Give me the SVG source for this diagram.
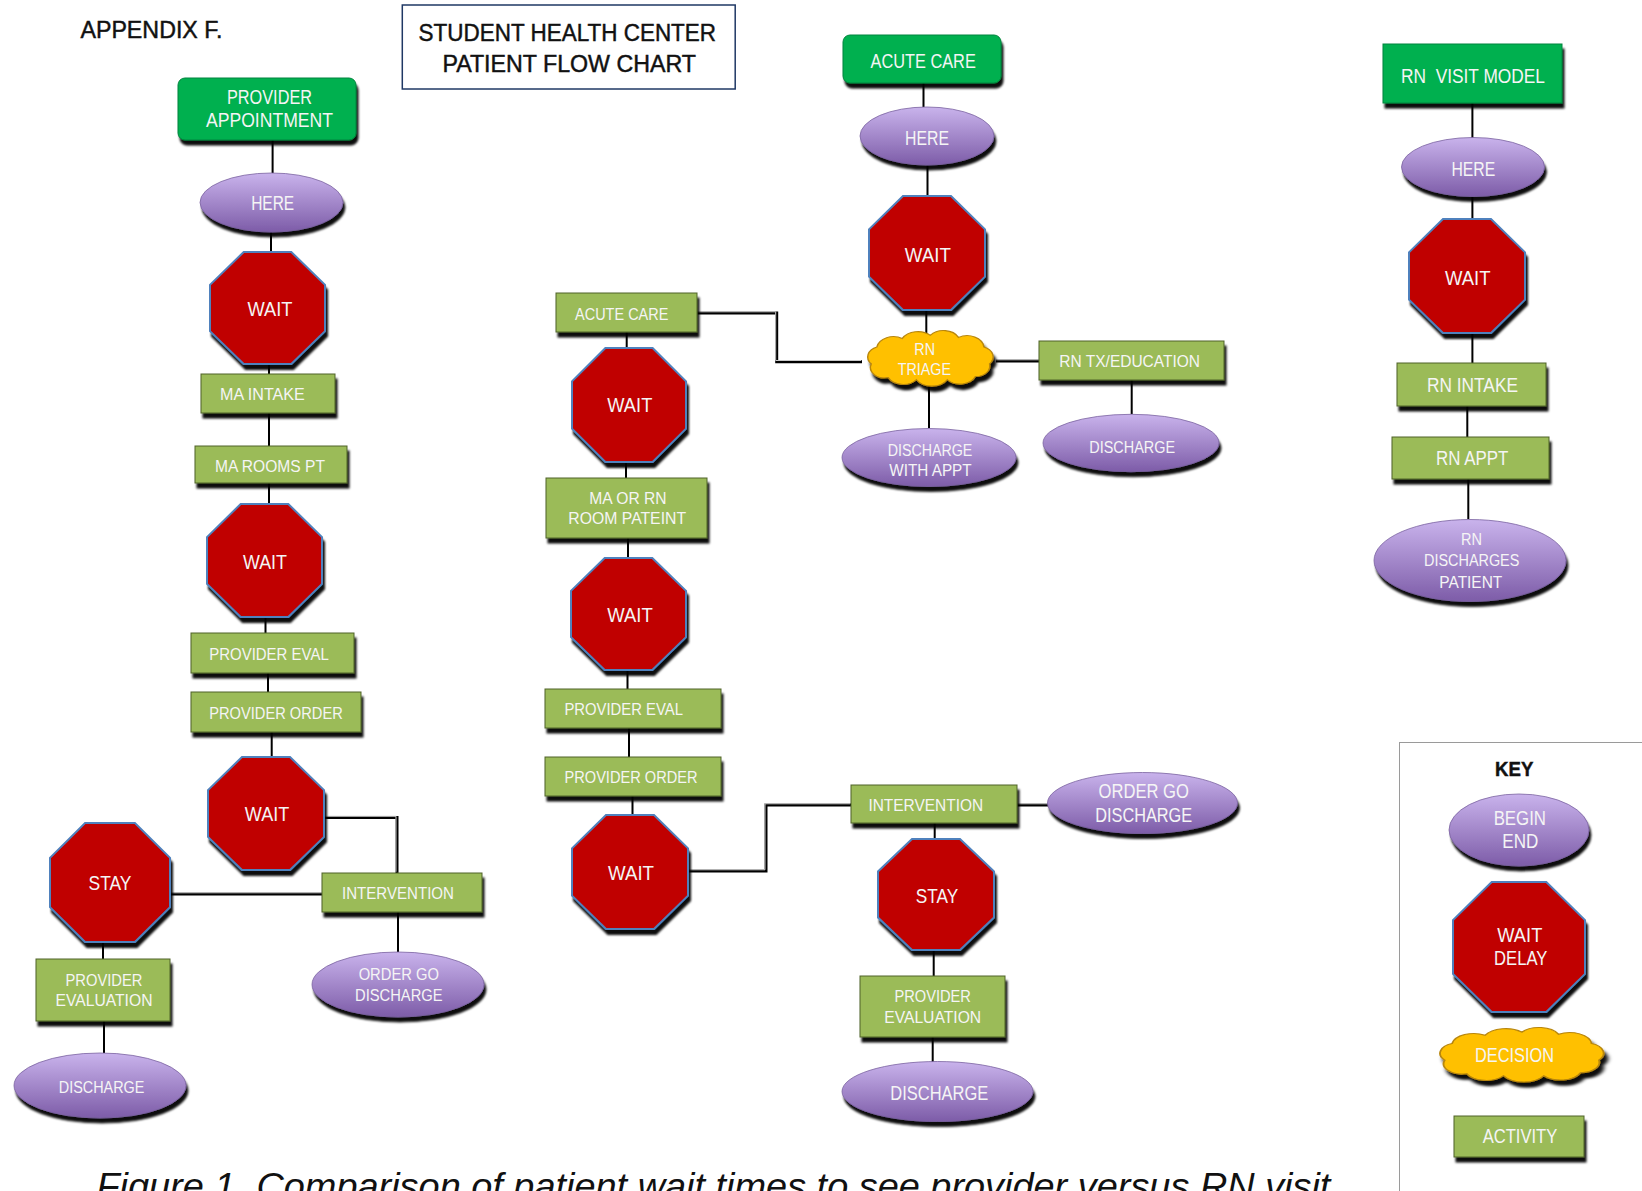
<svg xmlns="http://www.w3.org/2000/svg" width="1642" height="1191" viewBox="0 0 1642 1191">
<style>
.t{font-family:"Liberation Sans",Arial,sans-serif;fill:#F5F5F5;text-anchor:middle}
.s{font-size:17.2px}
.l{font-size:19.4px}
.dk{font-family:"Liberation Sans",Arial,sans-serif;fill:#111;text-anchor:middle;stroke:#111;stroke-width:0.45}
.oct{fill:#C00000;stroke:#4F81BD;stroke-width:2;filter:url(#sh)}
.ell{fill:url(#pg);stroke:#7a62a0;stroke-width:0.8;filter:url(#sh)}
.act{fill:#9BBB59;stroke:#4F6228;stroke-width:1;filter:url(#sh)}
.beg{fill:#00B050;stroke:#00843c;stroke-width:1;filter:url(#sh)}
.cld{fill:#FFC000;stroke:#B8860B;stroke-width:1;filter:url(#sh)}
.ln{fill:none;stroke:#000;stroke-width:2}
.k{fill:none;stroke:#000;stroke-width:3}
.h{fill:none;stroke:#c8c8c8;stroke-width:1}
</style>
<defs>
<filter id="sh" x="-10%" y="-10%" width="125%" height="135%">
<feDropShadow dx="2" dy="5" stdDeviation="1.2" flood-color="#000" flood-opacity="0.95"/>
</filter>
<linearGradient id="pg" x1="0" y1="0" x2="0" y2="1">
<stop offset="0" stop-color="#C9B3EC"/>
<stop offset="1" stop-color="#7D5CA8"/>
</linearGradient>
<path id="cloud" d="M10,32 A10,10 0 0 1 14,16 A12,12 0 0 1 32,8 A13,13 0 0 1 52,5 A12,12 0 0 1 72,7 A12,12 0 0 1 90,16 A10,10 0 0 1 94,32 A10,10 0 0 1 84,44 A12,12 0 0 1 64,47 A13,13 0 0 1 42,47 A12,12 0 0 1 22,45 A10,10 0 0 1 10,32 Z"/>
</defs>
<rect width="1642" height="1191" fill="#fff"/>

<g id="connectors">
<line class="ln" x1="272.6" y1="140" x2="272.6" y2="173"/>
<line class="ln" x1="271" y1="232" x2="271" y2="252"/>
<line class="ln" x1="269" y1="364" x2="269" y2="374"/>
<line class="ln" x1="269" y1="413" x2="269" y2="446"/>
<line class="ln" x1="269" y1="483" x2="269" y2="504"/>
<line class="ln" x1="265.5" y1="617" x2="265.5" y2="633"/>
<line class="ln" x1="268" y1="673" x2="268" y2="692"/>
<line class="ln" x1="271.7" y1="732" x2="271.7" y2="757"/>
<line class="ln" x1="103" y1="942" x2="103" y2="959"/>
<line class="ln" x1="104" y1="1021" x2="104" y2="1053"/>
<line class="ln" x1="398" y1="912" x2="398" y2="952"/>
<line class="ln" x1="626.7" y1="332" x2="626.7" y2="348"/>
<line class="ln" x1="626" y1="462" x2="626" y2="478"/>
<line class="ln" x1="628" y1="538" x2="628" y2="558"/>
<line class="ln" x1="627.5" y1="670" x2="627.5" y2="689"/>
<line class="ln" x1="629" y1="728" x2="629" y2="757"/>
<line class="ln" x1="632.5" y1="796" x2="632.5" y2="815"/>
<line class="ln" x1="934.7" y1="823" x2="934.7" y2="839"/>
<line class="ln" x1="933.7" y1="950" x2="933.7" y2="976"/>
<line class="ln" x1="932.7" y1="1037" x2="932.7" y2="1062"/>
<line class="ln" x1="923.5" y1="83" x2="923.5" y2="107"/>
<line class="ln" x1="927.5" y1="165" x2="927.5" y2="196"/>
<line class="ln" x1="926.3" y1="310" x2="926.3" y2="335"/>
<line class="ln" x1="929" y1="386" x2="929" y2="428"/>
<line class="ln" x1="1131.7" y1="380" x2="1131.7" y2="414"/>
<line class="ln" x1="1472.4" y1="103" x2="1472.4" y2="138"/>
<line class="ln" x1="1472.4" y1="196" x2="1472.4" y2="219"/>
<line class="ln" x1="1472.4" y1="333" x2="1472.4" y2="363"/>
<line class="ln" x1="1467.3" y1="406" x2="1467.3" y2="437"/>
<line class="ln" x1="1468.3" y1="479" x2="1468.3" y2="519"/>
<path class="k" d="M697,313 H776.7 V361.7 H862"/>
<path class="h" transform="translate(-1,-1.2)" d="M697,313 H776.7 V361.7 H862"/>
<path class="k" d="M324,817.5 H397 V873"/>
<path class="h" transform="translate(-1,-1.2)" d="M324,817.5 H397 V873"/>
<path class="k" d="M170,894 H322"/>
<path class="h" transform="translate(0,-1.2)" d="M170,894 H322"/>
<path class="k" d="M688,871 H766 V805 H851"/>
<path class="h" transform="translate(-1,-1.2)" d="M688,871 H766 V805 H851"/>
<path class="k" d="M1017,805 H1048"/>
<path class="h" transform="translate(0,-1.2)" d="M1017,805 H1048"/>
<path class="k" d="M996,361 H1039"/>
<path class="h" transform="translate(0,-1.2)" d="M996,361 H1039"/>
</g>

<g id="appendix"><text class="dk" x="151.4" y="38.3" font-size="23" textLength="142" lengthAdjust="spacingAndGlyphs">APPENDIX F.</text></g>
<g id="title">
<rect x="402.3" y="5" width="332.9" height="84" fill="#fff" stroke="#1F3864" stroke-width="1.5"/>
<text class="dk" x="567.3" y="40.7" font-size="23.3" textLength="297.5" lengthAdjust="spacingAndGlyphs">STUDENT HEALTH CENTER</text>
<text class="dk" x="569.2" y="71.7" font-size="23.3" textLength="253.6" lengthAdjust="spacingAndGlyphs">PATIENT FLOW CHART</text>
</g>

<!-- Column 1 -->
<g id="provider-appointment"><rect class="beg" x="178" y="78" width="178" height="62" rx="7"/>
<text class="t l" x="269.5" y="104" textLength="85" lengthAdjust="spacingAndGlyphs">PROVIDER</text>
<text class="t l" x="269.5" y="127" textLength="127" lengthAdjust="spacingAndGlyphs">APPOINTMENT</text></g>
<g id="here-1"><ellipse class="ell" cx="271.5" cy="202.5" rx="71.5" ry="29.5"/>
<text class="t l" x="272.7" y="210" textLength="43" lengthAdjust="spacingAndGlyphs">HERE</text></g>
<g id="wait-1a"><polygon class="oct" points="243.7,252 291.3,252 325,284.8 325,331.2 291.3,364 243.7,364 210,331.2 210,284.8"/>
<text class="t l" x="270" y="316" textLength="45" lengthAdjust="spacingAndGlyphs">WAIT</text></g>
<g id="ma-intake"><rect class="act" x="201" y="374" width="134" height="39"/>
<text class="t s" x="262.4" y="400" textLength="84.7" lengthAdjust="spacingAndGlyphs">MA INTAKE</text></g>
<g id="ma-rooms-pt"><rect class="act" x="195" y="446" width="152" height="37"/>
<text class="t s" x="270" y="471.7" textLength="110" lengthAdjust="spacingAndGlyphs">MA ROOMS PT</text></g>
<g id="wait-1b"><polygon class="oct" points="240.7,504 288.3,504 322,537.1 322,583.9 288.3,617 240.7,617 207,583.9 207,537.1"/>
<text class="t l" x="265" y="569" textLength="44" lengthAdjust="spacingAndGlyphs">WAIT</text></g>
<g id="provider-eval-1"><rect class="act" x="191" y="633" width="163" height="40"/>
<text class="t s" x="269" y="660" textLength="119.6" lengthAdjust="spacingAndGlyphs">PROVIDER EVAL</text></g>
<g id="provider-order-1"><rect class="act" x="191" y="692" width="170" height="40"/>
<text class="t s" x="276" y="719" textLength="133.5" lengthAdjust="spacingAndGlyphs">PROVIDER ORDER</text></g>
<g id="wait-1c"><polygon class="oct" points="242,757 290,757 324,790.1 324,836.9 290,870 242,870 208,836.9 208,790.1"/>
<text class="t l" x="267" y="821" textLength="44.4" lengthAdjust="spacingAndGlyphs">WAIT</text></g>
<g id="intervention-1"><rect class="act" x="322" y="873" width="160" height="39"/>
<text class="t s" x="398" y="899" textLength="112" lengthAdjust="spacingAndGlyphs">INTERVENTION</text></g>
<g id="stay-1"><polygon class="oct" points="85.1,823 134.9,823 170,857.9 170,907.1 134.9,942 85.1,942 50,907.1 50,857.9"/>
<text class="t l" x="110" y="890" textLength="43" lengthAdjust="spacingAndGlyphs">STAY</text></g>
<g id="provider-evaluation-1"><rect class="act" x="36" y="959" width="134" height="62"/>
<text class="t s" x="104" y="986" textLength="77" lengthAdjust="spacingAndGlyphs">PROVIDER</text>
<text class="t s" x="104" y="1006" textLength="97" lengthAdjust="spacingAndGlyphs">EVALUATION</text></g>
<g id="discharge-1"><ellipse class="ell" cx="100" cy="1085.5" rx="86" ry="32.5"/>
<text class="t s" x="101.6" y="1093" textLength="85.6" lengthAdjust="spacingAndGlyphs">DISCHARGE</text></g>
<g id="order-go-discharge-1"><ellipse class="ell" cx="398" cy="984.5" rx="86" ry="32.5"/>
<text class="t s" x="398.8" y="980" textLength="80.3" lengthAdjust="spacingAndGlyphs">ORDER GO</text>
<text class="t s" x="398.8" y="1000.7" textLength="87.5" lengthAdjust="spacingAndGlyphs">DISCHARGE</text></g>

<!-- Column 2 -->
<g id="acute-care-2"><rect class="act" x="556" y="293" width="141" height="39"/>
<text class="t s" x="621.7" y="320" textLength="93.3" lengthAdjust="spacingAndGlyphs">ACUTE CARE</text></g>
<g id="wait-2a"><polygon class="oct" points="605.4,348 652.6,348 686,381.4 686,428.6 652.6,462 605.4,462 572,428.6 572,381.4"/>
<text class="t l" x="629.8" y="411.7" textLength="45" lengthAdjust="spacingAndGlyphs">WAIT</text></g>
<g id="ma-or-rn"><rect class="act" x="546" y="478" width="161" height="60"/>
<text class="t s" x="628" y="504" textLength="77.3" lengthAdjust="spacingAndGlyphs">MA OR RN</text>
<text class="t s" x="627.2" y="524.3" textLength="117.7" lengthAdjust="spacingAndGlyphs">ROOM PATEINT</text></g>
<g id="wait-2b"><polygon class="oct" points="604.7,558 652.3,558 686,590.8 686,637.2 652.3,670 604.7,670 571,637.2 571,590.8"/>
<text class="t l" x="630" y="621.7" textLength="45.5" lengthAdjust="spacingAndGlyphs">WAIT</text></g>
<g id="provider-eval-2"><rect class="act" x="545" y="689" width="176" height="39"/>
<text class="t s" x="623.7" y="715" textLength="118.6" lengthAdjust="spacingAndGlyphs">PROVIDER EVAL</text></g>
<g id="provider-order-2"><rect class="act" x="545" y="757" width="176" height="39"/>
<text class="t s" x="631" y="782.7" textLength="133" lengthAdjust="spacingAndGlyphs">PROVIDER ORDER</text></g>
<g id="wait-2c"><polygon class="oct" points="606,815 654,815 688,848.4 688,895.6 654,929 606,929 572,895.6 572,848.4"/>
<text class="t l" x="631" y="880" textLength="46" lengthAdjust="spacingAndGlyphs">WAIT</text></g>
<g id="intervention-2"><rect class="act" x="851" y="785" width="166" height="38"/>
<text class="t s" x="925.8" y="811" textLength="114.8" lengthAdjust="spacingAndGlyphs">INTERVENTION</text></g>
<g id="order-go-discharge-2"><ellipse class="ell" cx="1142.5" cy="803" rx="95" ry="30.5"/>
<text class="t l" x="1143.7" y="798.3" textLength="90.3" lengthAdjust="spacingAndGlyphs">ORDER GO</text>
<text class="t l" x="1143.7" y="821.7" textLength="97" lengthAdjust="spacingAndGlyphs">DISCHARGE</text></g>
<g id="stay-2"><polygon class="oct" points="912,839 960,839 994,871.5 994,917.5 960,950 912,950 878,917.5 878,871.5"/>
<text class="t l" x="937" y="902.7" textLength="42.4" lengthAdjust="spacingAndGlyphs">STAY</text></g>
<g id="provider-evaluation-2"><rect class="act" x="860" y="976" width="145" height="61"/>
<text class="t s" x="932.7" y="1001.7" textLength="76.5" lengthAdjust="spacingAndGlyphs">PROVIDER</text>
<text class="t s" x="932.7" y="1022.7" textLength="97" lengthAdjust="spacingAndGlyphs">EVALUATION</text></g>
<g id="discharge-2"><ellipse class="ell" cx="937.5" cy="1091.5" rx="95.5" ry="30"/>
<text class="t l" x="939.3" y="1100" textLength="98" lengthAdjust="spacingAndGlyphs">DISCHARGE</text></g>

<!-- Column 3 -->
<g id="acute-care-3"><rect class="beg" x="843" y="35" width="158" height="48" rx="7"/>
<text class="t l" x="923.2" y="68.3" textLength="105.2" lengthAdjust="spacingAndGlyphs">ACUTE CARE</text></g>
<g id="here-3"><ellipse class="ell" cx="927" cy="136" rx="67" ry="29"/>
<text class="t l" x="927" y="145" textLength="43.8" lengthAdjust="spacingAndGlyphs">HERE</text></g>
<g id="wait-3"><polygon class="oct" points="903,196 951,196 985,229.4 985,276.6 951,310 903,310 869,276.6 869,229.4"/>
<text class="t l" x="927.8" y="261.7" textLength="46" lengthAdjust="spacingAndGlyphs">WAIT</text></g>
<g id="rn-triage"><use href="#cloud" class="cld" transform="translate(857.2,330) scale(1.408,1.058)" vector-effect="non-scaling-stroke"/>
<text class="t s" x="924.7" y="355" textLength="20.7" lengthAdjust="spacingAndGlyphs">RN</text>
<text class="t s" x="924.3" y="375" textLength="53.3" lengthAdjust="spacingAndGlyphs">TRIAGE</text></g>
<g id="rn-tx-education"><rect class="act" x="1039" y="341" width="185" height="39"/>
<text class="t s" x="1129.7" y="366.7" textLength="140.7" lengthAdjust="spacingAndGlyphs">RN TX/EDUCATION</text></g>
<g id="discharge-with-appt"><ellipse class="ell" cx="929" cy="457.5" rx="87" ry="29"/>
<text class="t s" x="930" y="456" textLength="84.7" lengthAdjust="spacingAndGlyphs">DISCHARGE</text>
<text class="t s" x="930.5" y="476" textLength="82.3" lengthAdjust="spacingAndGlyphs">WITH APPT</text></g>
<g id="discharge-3"><ellipse class="ell" cx="1131" cy="443" rx="88" ry="28.7"/>
<text class="t s" x="1132.2" y="452.7" textLength="85.7" lengthAdjust="spacingAndGlyphs">DISCHARGE</text></g>

<!-- Column 4 -->
<g id="rn-visit-model"><rect class="beg" x="1383" y="44" width="179" height="59"/>
<text class="t l" x="1473" y="82.7" textLength="144" lengthAdjust="spacingAndGlyphs" xml:space="preserve">RN  VISIT MODEL</text></g>
<g id="here-4"><ellipse class="ell" cx="1473" cy="167" rx="71.5" ry="29.5"/>
<text class="t l" x="1473.3" y="175.7" textLength="43.8" lengthAdjust="spacingAndGlyphs">HERE</text></g>
<g id="wait-4"><polygon class="oct" points="1443,219 1491,219 1525,252.4 1525,299.6 1491,333 1443,333 1409,299.6 1409,252.4"/>
<text class="t l" x="1467.8" y="285" textLength="45.5" lengthAdjust="spacingAndGlyphs">WAIT</text></g>
<g id="rn-intake"><rect class="act" x="1397" y="363" width="149" height="43"/>
<text class="t l" x="1472.5" y="391.7" textLength="91" lengthAdjust="spacingAndGlyphs">RN INTAKE</text></g>
<g id="rn-appt"><rect class="act" x="1392" y="437" width="157" height="42"/>
<text class="t l" x="1472.2" y="465" textLength="72.3" lengthAdjust="spacingAndGlyphs">RN APPT</text></g>
<g id="rn-discharges-patient"><ellipse class="ell" cx="1470" cy="560.5" rx="96" ry="41"/>
<text class="t s" x="1471.5" y="545" textLength="21" lengthAdjust="spacingAndGlyphs">RN</text>
<text class="t s" x="1471.7" y="566" textLength="95.3" lengthAdjust="spacingAndGlyphs">DISCHARGES</text>
<text class="t s" x="1470.8" y="588.3" textLength="63" lengthAdjust="spacingAndGlyphs">PATIENT</text></g>

<!-- Key -->
<g id="key">
<rect x="1399.5" y="742.5" width="260" height="460" fill="none" stroke="#9a9a9a" stroke-width="1"/>
<text class="dk" x="1514.2" y="776" font-size="20" font-weight="bold" textLength="38.3" lengthAdjust="spacingAndGlyphs">KEY</text>
</g>
<g id="key-begin-end"><ellipse class="ell" cx="1519" cy="830" rx="70" ry="36"/>
<text class="t l" x="1519.8" y="825" textLength="52.3" lengthAdjust="spacingAndGlyphs">BEGIN</text>
<text class="t l" x="1520.3" y="847.7" textLength="36" lengthAdjust="spacingAndGlyphs">END</text></g>
<g id="key-wait-delay"><polygon class="oct" points="1491.7,882 1546.3,882 1585,920.1 1585,973.9 1546.3,1012 1491.7,1012 1453,973.9 1453,920.1"/>
<text class="t l" x="1519.8" y="941.7" textLength="45" lengthAdjust="spacingAndGlyphs">WAIT</text>
<text class="t l" x="1520.7" y="965" textLength="53.3" lengthAdjust="spacingAndGlyphs">DELAY</text></g>
<g id="key-decision"><use href="#cloud" class="cld" transform="translate(1426.3,1027) scale(1.837,1.038)" vector-effect="non-scaling-stroke"/>
<text class="t l" x="1514.5" y="1061.7" textLength="79" lengthAdjust="spacingAndGlyphs">DECISION</text></g>
<g id="key-activity"><rect class="act" x="1454" y="1116" width="130" height="41"/>
<text class="t l" x="1520" y="1143.3" textLength="74.7" lengthAdjust="spacingAndGlyphs">ACTIVITY</text></g>

<g id="caption"><text x="96.4" y="1199" font-family="'Liberation Sans',Arial,sans-serif" font-style="italic" font-size="36" fill="#111" textLength="1234" lengthAdjust="spacingAndGlyphs">Figure 1. Comparison of patient wait times to see provider versus RN visit</text></g>
</svg>
